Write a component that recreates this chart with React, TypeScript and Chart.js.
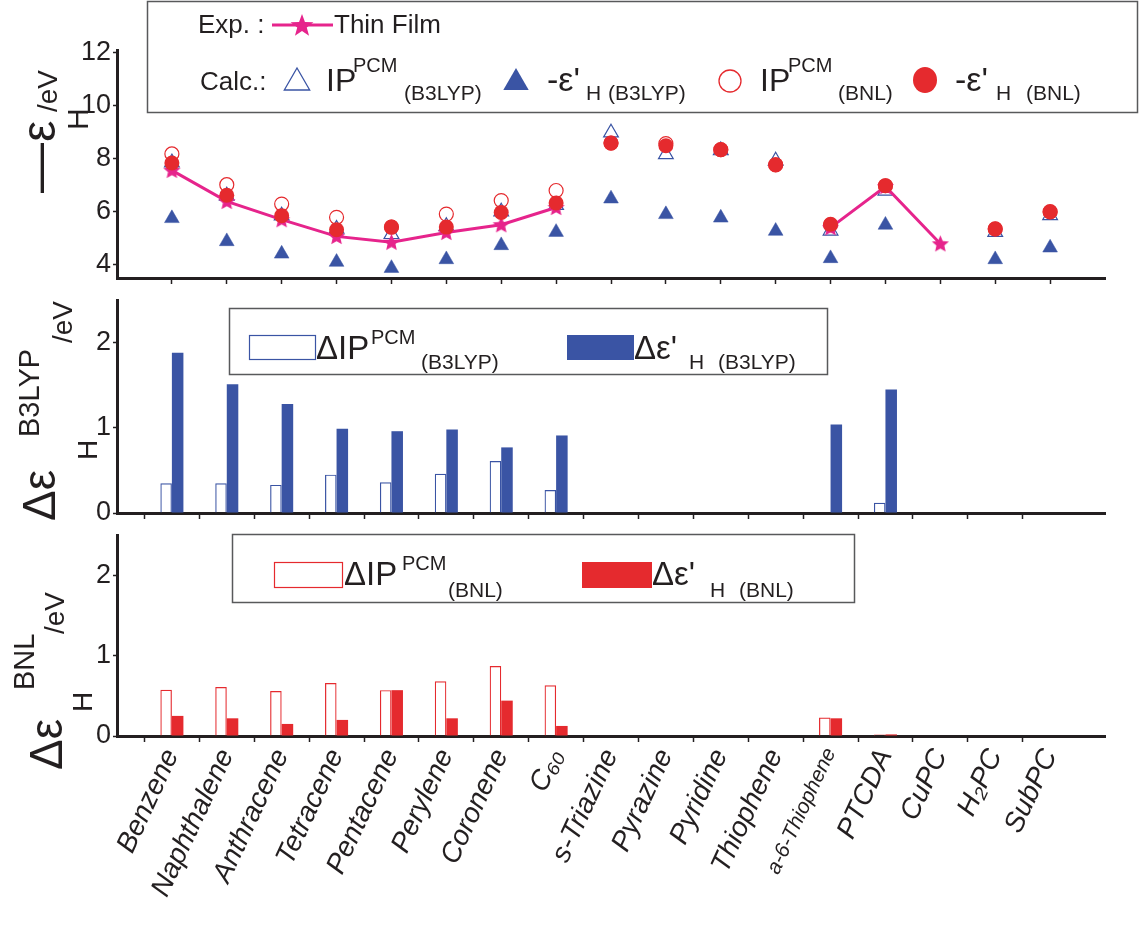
import React, { useEffect, useRef } from 'react';
import { Chart, registerables } from 'chart.js';

Chart.register(...registerables);

const W = 1139;
const H = 941;

// Molecules along the shared x axis
const molecules = [
  'Benzene', 'Naphthalene', 'Anthracene', 'Tetracene', 'Pentacene', 'Perylene', 'Coronene', 'C₆₀',
  's-Triazine', 'Pyrazine', 'Pyridine', 'Thiophene', 'a-6-Thiophene', 'PTCDA', 'CuPC', 'H₂PC', 'SubPC',
];

// Top panel, eV
const thinFilm = [7.56, 6.39, 5.70, 5.07, 4.85, 5.22, 5.51, 6.16, null, null, null, null, 5.40, 6.95, 4.79, null, null];
const ipB3lyp = [7.85, 6.60, 5.85, 5.35, 5.15, 5.45, 6.00, 6.25, 8.98, 8.16, 8.31, 7.92, 5.28, 6.79, null, 5.23, 5.86];
const epsB3lyp = [5.75, 4.88, 4.41, 4.10, 3.87, 4.20, 4.73, 5.23, 6.49, 5.90, 5.77, 5.27, 4.24, 5.50, null, 4.20, 4.64];
const ipBnl = [8.18, 7.02, 6.29, 5.79, 5.42, 5.91, 6.42, 6.80, 8.59, 8.57, 8.34, 7.77, 5.50, 6.98, null, 5.35, 6.00];
const epsBnl = [7.84, 6.62, 5.85, 5.32, 5.42, 5.42, 5.97, 6.33, 8.59, 8.49, 8.34, 7.77, 5.53, 6.98, null, 5.35, 5.99];

// Middle panel: deviations from thin-film values, B3LYP (eV)
const dIpB3lyp = [0.35, 0.35, 0.33, 0.45, 0.36, 0.46, 0.61, 0.27, null, null, null, null, null, 0.12, null, null, null];
const dEpsB3lyp = [1.88, 1.51, 1.28, 0.99, 0.96, 0.98, 0.77, 0.91, null, null, null, null, 1.04, 1.45, null, null, null];

// Bottom panel: deviations, BNL (eV)
const dIpBnl = [0.575, 0.61, 0.56, 0.66, 0.57, 0.68, 0.87, 0.63, null, null, null, null, 0.23, 0.02, null, null, null];
const dEpsBnl = [0.25, 0.22, 0.15, 0.20, 0.57, 0.22, 0.44, 0.125, null, null, null, null, 0.22, 0.02, null, null, null];

const energyTicks = [4, 6, 8, 10, 12];
const deltaTicks = [0, 1, 2];

// one empty slot on each side of the molecule list
const slots = ['', ...molecules, ''];
const pad = (a: (number | null)[]) => [null, ...a, null];

const INK = '#231f20';
const FRAME = '#58595b';
const BLUE = '#3a54a4';
const RED = '#e52a2e';
const PINK = '#e6248c';
const SANS = '"Liberation Sans", Arial, Helvetica, sans-serif';
const AXIS_LEFT = 117;

function put(ctx: CanvasRenderingContext2D, s: string, x: number, y: number, size: number, color = INK) {
  ctx.save();
  ctx.font = `${size}px ${SANS}`;
  ctx.fillStyle = color;
  ctx.textAlign = 'left';
  ctx.textBaseline = 'alphabetic';
  ctx.fillText(s, x, y);
  ctx.restore();
}

// text turned to read bottom-to-top; (bx, by) is the start of its baseline
function vput(ctx: CanvasRenderingContext2D, s: string, bx: number, by: number, size: number) {
  ctx.save();
  ctx.translate(bx, by);
  ctx.rotate(-Math.PI / 2);
  ctx.font = `${size}px ${SANS}`;
  ctx.fillStyle = INK;
  ctx.textAlign = 'left';
  ctx.textBaseline = 'alphabetic';
  ctx.fillText(s, 0, 0);
  ctx.restore();
}

function starPath(g: CanvasRenderingContext2D, cx: number, cy: number, R: number, r: number) {
  g.beginPath();
  for (let i = 0; i < 10; i++) {
    const rad = i % 2 === 0 ? R : r;
    const a = -Math.PI / 2 + (i * Math.PI) / 5;
    const px = cx + rad * Math.cos(a);
    const py = cy + rad * Math.sin(a);
    if (i === 0) g.moveTo(px, py);
    else g.lineTo(px, py);
  }
  g.closePath();
}

function makeStar(size: number) {
  const c = document.createElement('canvas');
  c.width = size;
  c.height = size;
  const g = c.getContext('2d')!;
  starPath(g, size / 2, size / 2 + 0.5, size / 2 - 0.5, size / 4.6);
  g.fillStyle = PINK;
  g.fill();
  return c;
}

function triangle(ctx: CanvasRenderingContext2D, cx: number, top: number, h: number, filled: boolean) {
  const half = h / Math.sqrt(3);
  ctx.beginPath();
  ctx.moveTo(cx, top);
  ctx.lineTo(cx + half, top + h);
  ctx.lineTo(cx - half, top + h);
  ctx.closePath();
  if (filled) {
    ctx.fillStyle = BLUE;
    ctx.fill();
  } else {
    ctx.strokeStyle = BLUE;
    ctx.lineWidth = 1.3;
    ctx.stroke();
  }
}

function keyBox(ctx: CanvasRenderingContext2D, x: number, y: number, w: number, h: number) {
  ctx.fillStyle = '#fff';
  ctx.fillRect(x, y, w, h);
  ctx.strokeStyle = FRAME;
  ctx.lineWidth = 1.5;
  ctx.strokeRect(x + 0.5, y + 0.5, w, h);
}

const topDecor = {
  id: 'topDecor',
  afterDraw(chart: Chart) {
    const ctx = chart.ctx;
    ctx.save();
    keyBox(ctx, 147, 1, 990, 111);
    // experimental row
    put(ctx, 'Exp. :', 198, 33, 26);
    ctx.strokeStyle = PINK;
    ctx.lineWidth = 3;
    ctx.beginPath();
    ctx.moveTo(272, 25);
    ctx.lineTo(333, 25);
    ctx.stroke();
    starPath(ctx, 302, 26, 12, 5);
    ctx.fillStyle = PINK;
    ctx.fill();
    put(ctx, 'Thin Film', 334, 33, 26);
    // calculated row
    put(ctx, 'Calc.:', 200, 90, 26);
    triangle(ctx, 297, 68, 22, false);
    put(ctx, 'IP', 326, 91, 32);
    put(ctx, 'PCM', 353, 72, 20);
    put(ctx, '(B3LYP)', 404, 100, 21);
    triangle(ctx, 516, 68, 22, true);
    put(ctx, "-ε'", 547, 91, 34);
    put(ctx, 'H', 586, 100, 21);
    put(ctx, '(B3LYP)', 608, 100, 21);
    ctx.beginPath();
    ctx.arc(730, 81, 11, 0, Math.PI * 2);
    ctx.strokeStyle = RED;
    ctx.lineWidth = 1.3;
    ctx.stroke();
    put(ctx, 'IP', 760, 91, 32);
    put(ctx, 'PCM', 788, 72, 20);
    put(ctx, '(BNL)', 838, 100, 21);
    ctx.beginPath();
    ctx.ellipse(925, 80, 12, 13, 0, 0, Math.PI * 2);
    ctx.fillStyle = RED;
    ctx.fill();
    put(ctx, "-ε'", 955, 91, 34);
    put(ctx, 'H', 996, 100, 21);
    put(ctx, '(BNL)', 1026, 100, 21);
    // y title: −ε_H /eV
    vput(ctx, '—', 55, 193, 50);
    vput(ctx, 'ε', 55, 142, 48);
    vput(ctx, 'H', 88, 130, 30);
    vput(ctx, '/eV', 57, 112, 28);
    ctx.restore();
  },
};

const midDecor = {
  id: 'midDecor',
  afterDraw(chart: Chart) {
    const ctx = chart.ctx;
    ctx.save();
    keyBox(ctx, 229, 308, 598, 66);
    ctx.strokeStyle = BLUE;
    ctx.lineWidth = 1.2;
    ctx.strokeRect(249.5, 335.5, 66, 24);
    put(ctx, 'ΔIP', 316, 359, 33);
    put(ctx, 'PCM', 371, 344, 20);
    put(ctx, '(B3LYP)', 421, 369, 21);
    ctx.fillStyle = BLUE;
    ctx.fillRect(567, 335, 67, 25);
    put(ctx, "Δε'", 634, 359, 33);
    put(ctx, 'H', 689, 369, 21);
    put(ctx, '(B3LYP)', 718, 369, 21);
    // y title: Δε_H^B3LYP /eV
    vput(ctx, 'Δε', 55, 521, 46);
    vput(ctx, 'H', 97, 460, 28);
    vput(ctx, 'B3LYP', 39, 437, 29);
    vput(ctx, '/eV', 72, 343, 28);
    ctx.restore();
  },
};

const lowDecor = {
  id: 'lowDecor',
  afterDraw(chart: Chart) {
    const ctx = chart.ctx;
    ctx.save();
    keyBox(ctx, 232, 534, 622, 68);
    ctx.strokeStyle = RED;
    ctx.lineWidth = 1.2;
    ctx.strokeRect(274.5, 562.5, 68, 25);
    put(ctx, 'ΔIP', 344, 585, 33);
    put(ctx, 'PCM', 402, 570, 20);
    put(ctx, '(BNL)', 448, 597, 21);
    ctx.fillStyle = RED;
    ctx.fillRect(582, 562, 70, 26);
    put(ctx, "Δε'", 652, 585, 33);
    put(ctx, 'H', 710, 597, 21);
    put(ctx, '(BNL)', 739, 597, 21);
    // y title: Δε_H^BNL /eV
    vput(ctx, 'Δε', 62, 770, 46);
    vput(ctx, 'H', 92, 712, 28);
    vput(ctx, 'BNL', 34, 690, 29);
    vput(ctx, '/eV', 64, 634, 28);
    ctx.restore();
  },
};

function xAxis(showLabels: boolean, height: number) {
  return {
    type: 'category',
    labels: slots,
    offset: false,
    grid: {
      drawOnChartArea: false,
      drawTicks: true,
      tickLength: 6,
      tickWidth: 1.5,
      tickColor: (c: any) => (c.tick && c.tick.label ? INK : 'rgba(0,0,0,0)'),
    },
    border: { display: true, color: INK, width: 3 },
    ticks: {
      display: showLabels,
      autoSkip: false,
      maxRotation: 65,
      minRotation: 65,
      padding: 2,
      color: INK,
      font: (c: any) => ({
        family: SANS,
        size: c.tick && c.tick.label === 'a-6-Thiophene' ? 21 : 28,
        style: 'italic',
      }),
    },
    afterFit: (s: any) => {
      s.height = height;
    },
  };
}

function yAxis(min: number, max: number, tickVals: number[]) {
  return {
    type: 'linear',
    min,
    max,
    afterBuildTicks: (s: any) => {
      s.ticks = tickVals.map((v) => ({ value: v }));
    },
    grid: { drawOnChartArea: false, drawTicks: true, tickLength: 4, tickWidth: 1.5, tickColor: INK },
    border: { display: true, color: INK, width: 3 },
    ticks: { color: INK, padding: 2, font: { family: SANS, size: 27 }, callback: (v: any) => String(v) },
    afterFit: (s: any) => {
      s.width = AXIS_LEFT;
    },
  };
}

const baseOptions = {
  responsive: false,
  animation: false,
  devicePixelRatio: 1,
  events: [],
  plugins: { legend: { display: false }, tooltip: { enabled: false } },
};

export default function App() {
  const topRef = useRef<HTMLCanvasElement>(null);
  const midRef = useRef<HTMLCanvasElement>(null);
  const lowRef = useRef<HTMLCanvasElement>(null);

  useEffect(() => {
    const star = makeStar(19);
    const marker = (data: (number | null)[], style: any, radius: number, fill: string, stroke: string, bw: number, order: number) => ({
      data: pad(data),
      showLine: false,
      pointStyle: style,
      pointRadius: radius,
      pointBackgroundColor: fill,
      pointBorderColor: stroke,
      pointBorderWidth: bw,
      order,
    });

    const top = new Chart(topRef.current!, {
      type: 'line',
      data: {
        labels: slots,
        datasets: [
          marker(epsBnl, 'circle', 7.5, RED, RED, 0, 1),
          {
            data: pad(thinFilm),
            borderColor: PINK,
            borderWidth: 3,
            pointStyle: star,
            pointRadius: 8,
            spanGaps: false,
            fill: false,
            order: 2,
          },
          marker(ipBnl, 'circle', 7, 'rgba(255,255,255,0)', RED, 1.2, 3),
          marker(epsB3lyp, 'triangle', 8.5, BLUE, BLUE, 0.5, 4),
          marker(ipB3lyp, 'triangle', 8.5, 'rgba(255,255,255,0)', BLUE, 1.2, 5),
        ] as any,
      },
      options: {
        ...baseOptions,
        layout: { padding: { top: 50, bottom: H - 278 - 12, left: 0, right: 34 } },
        scales: { x: xAxis(false, 12), y: yAxis(3.5, 12.1, energyTicks) },
      } as any,
      plugins: [topDecor as any],
    });

    const barSet = (data: (number | null)[], color: string, hollow: boolean) => ({
      data: pad(data),
      backgroundColor: hollow ? 'rgba(255,255,255,0)' : color,
      borderColor: color,
      borderWidth: hollow ? { top: 1.2, left: 1.2, right: 1.2, bottom: 0 } : 0,
      borderSkipped: 'bottom',
      categoryPercentage: 0.42,
      barPercentage: 1,
    });

    const mid = new Chart(midRef.current!, {
      type: 'bar',
      data: { labels: slots, datasets: [barSet(dIpB3lyp, BLUE, true), barSet(dEpsB3lyp, BLUE, false)] as any },
      options: {
        ...baseOptions,
        layout: { padding: { top: 300, bottom: H - 513 - 12, left: 0, right: 34 } },
        scales: { x: xAxis(false, 12), y: yAxis(0, 2.5, deltaTicks) },
      } as any,
      plugins: [midDecor as any],
    });

    const low = new Chart(lowRef.current!, {
      type: 'bar',
      data: { labels: slots, datasets: [barSet(dIpBnl, RED, true), barSet(dEpsBnl, RED, false)] as any },
      options: {
        ...baseOptions,
        layout: { padding: { top: 535, bottom: 0, left: 0, right: 34 } },
        scales: { x: xAxis(true, H - 736), y: yAxis(0, 2.5, deltaTicks) },
      } as any,
      plugins: [lowDecor as any],
    });

    return () => {
      top.destroy();
      mid.destroy();
      low.destroy();
    };
  }, []);

  const layer: React.CSSProperties = { position: 'absolute', left: 0, top: 0, width: W, height: H };
  return (
    <div style={{ position: 'fixed', left: 0, top: 0, width: W, height: H, background: '#fff', overflow: 'hidden' }}>
      <canvas ref={topRef} width={W} height={H} style={layer} />
      <canvas ref={midRef} width={W} height={H} style={layer} />
      <canvas ref={lowRef} width={W} height={H} style={layer} />
    </div>
  );
}
